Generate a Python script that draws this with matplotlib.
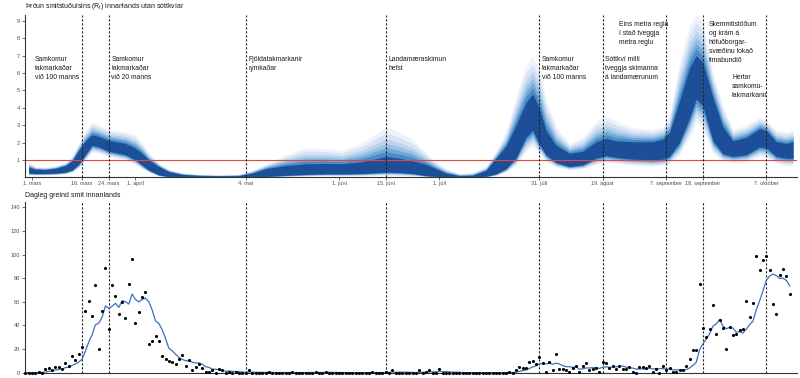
import matplotlib
matplotlib.use('Agg')
import matplotlib.pyplot as plt
import numpy as np
import pandas as pd

plt.rcParams['font.family'] = ['Liberation Sans', 'DejaVu Sans']

start = pd.Timestamp('2020-03-01')

# daily domestic cases, one value per day from 28 Feb
cases_first_day = '2020-02-28'
cases = [0, 0, 0, 0, 1, 0, 3, 4, 2, 5, 5, 3, 8, 6, 14, 11, 16, 22, 52, 61,
         48, 74, 20, 52, 89, 37, 74, 65, 50, 60, 46, 75, 96, 42, 51, 64, 68, 24, 27, 31,
         27, 14, 12, 10, 9, 7, 12, 15, 6, 11, 2, 5, 7, 4, 1, 1, 2, 0, 3, 2,
         0, 1, 0, 1, 0, 0, 0, 2, 0, 0, 0, 0, 0, 1, 0, 0, 0, 0, 0, 0,
         1, 0, 0, 0, 0, 0, 0, 1, 0, 0, 1, 0, 0, 0, 0, 0, 0, 0, 0, 0,
         0, 0, 0, 0, 1, 0, 0, 0, 1, 0, 2, 0, 0, 0, 0, 0, 0, 0, 2, 0,
         1, 2, 0, 0, 3, 0, 0, 0, 0, 0, 0, 0, 0, 0, 0, 0, 0, 0, 0, 0,
         0, 0, 0, 0, 0, 1, 0, 2, 5, 4, 4, 9, 10, 7, 13, 8, 1, 9, 2, 16,
         3, 3, 2, 1, 4, 6, 1, 6, 8, 2, 3, 4, 1, 9, 8, 4, 6, 3, 6, 3,
         3, 5, 1, 0, 5, 5, 4, 6, 1, 3, 0, 6, 2, 4, 1, 1, 2, 2, 6, 12,
         19, 19, 75, 38, 30, 37, 57, 33, 45, 38, 20, 39, 32, 33, 36, 37, 61, 47, 59, 99,
         87, 95, 99, 87, 58, 50, 83, 88, 82, 67]

# R_t estimate: days after 1 March, inner (darkest) band and outer (lightest) band
r_days = [-1, 1, 4, 7, 10, 12, 14, 16, 18, 20, 23, 28, 31, 33, 35, 38, 41, 45, 50, 56,
          62, 66, 70, 76, 82, 88, 93, 99, 106, 110, 114, 118, 121, 124, 128, 132, 136, 139, 142, 145,
          148, 150, 152, 154, 157, 161, 165, 169, 172, 175, 180, 186, 189, 191, 194, 197, 199, 201, 204, 207,
          210, 214, 218, 220, 223, 226, 228]
r_lo_in = [0.24, 0.22, 0.22, 0.24, 0.30, 0.42, 0.75, 1.30, 1.85, 1.75, 1.50, 1.30, 1.00, 0.70, 0.42, 0.14, 0.05, 0.03, 0.03, 0.03,
           0.03, 0.04, 0.05, 0.12, 0.17, 0.20, 0.20, 0.22, 0.30, 0.28, 0.22, 0.10, 0.06, 0.03, 0.02, 0.03, 0.06, 0.20, 0.50, 1.10,
           2.30, 2.70, 1.90, 1.30, 0.85, 0.62, 0.72, 1.10, 1.25, 1.15, 1.05, 1.00, 1.05, 1.20, 2.00, 3.40, 4.50, 4.10, 2.10, 1.35,
           1.20, 1.30, 1.75, 1.70, 1.20, 1.10, 1.10]
r_hi_in = [0.58, 0.47, 0.45, 0.52, 0.68, 0.95, 1.55, 2.10, 2.45, 2.35, 2.12, 1.95, 1.67, 1.38, 1.00, 0.62, 0.33, 0.17, 0.11, 0.09,
           0.10, 0.25, 0.50, 0.68, 0.78, 0.80, 0.78, 0.90, 1.20, 1.10, 0.95, 0.75, 0.50, 0.25, 0.10, 0.12, 0.40, 1.10, 1.80, 3.00,
           4.30, 4.80, 4.00, 2.70, 1.85, 1.38, 1.50, 2.05, 2.25, 2.10, 2.05, 2.05, 2.20, 2.60, 4.40, 6.30, 7.00, 6.60, 4.60, 2.90,
           2.10, 2.30, 2.80, 2.70, 2.05, 1.95, 2.05]
r_lo_out = [0.15, 0.14, 0.14, 0.15, 0.20, 0.30, 0.55, 1.00, 1.45, 1.40, 1.20, 1.00, 0.75, 0.50, 0.30, 0.08, 0.03, 0.02, 0.02, 0.02,
            0.02, 0.02, 0.03, 0.05, 0.08, 0.10, 0.10, 0.10, 0.12, 0.10, 0.08, 0.05, 0.03, 0.02, 0.01, 0.02, 0.03, 0.10, 0.30, 0.70,
            1.50, 1.80, 1.40, 0.90, 0.60, 0.45, 0.50, 0.75, 0.85, 0.80, 0.70, 0.65, 0.70, 0.80, 1.30, 2.30, 3.20, 2.80, 1.40, 0.95,
            0.85, 0.90, 1.20, 1.15, 0.80, 0.70, 0.70]
r_hi_out = [0.88, 0.62, 0.58, 0.66, 0.85, 1.20, 1.95, 2.65, 3.20, 3.00, 2.75, 2.62, 2.42, 1.96, 1.40, 0.82, 0.45, 0.26, 0.17, 0.14,
            0.18, 0.42, 0.75, 1.30, 1.70, 1.65, 1.55, 2.00, 2.88, 2.60, 2.20, 1.40, 0.90, 0.50, 0.22, 0.28, 0.62, 1.50, 2.60, 4.60,
            6.40, 6.90, 6.20, 4.50, 2.90, 1.95, 2.30, 3.20, 3.50, 3.25, 2.85, 2.75, 2.90, 3.50, 6.60, 8.70, 9.35, 8.90, 6.00, 4.10,
            2.75, 3.00, 3.45, 3.30, 2.70, 2.60, 2.70]

event_dates = ['2020-03-16', '2020-03-24', '2020-05-04', '2020-06-15', '2020-07-31',
               '2020-08-19', '2020-09-07', '2020-09-18', '2020-10-07']
tick_dates = ['2020-03-01', '2020-03-16', '2020-03-24', '2020-04-01', '2020-05-04', '2020-06-01',
              '2020-06-15', '2020-07-01', '2020-07-31', '2020-08-19', '2020-09-07', '2020-09-18',
              '2020-10-07']
tick_labels = ['1. mars', '16. mars', '24. mars', '1. apríl', '4. maí', '1. júní', '15. júní',
               '1. júlí', '31. júlí', '19. ágúst', '7. september', '18. september', '7. október']

notes = [
    ('2020-03-01', 6.98, 'Samkomur\ntakmarkaðar\nvið 100 manns'),
    ('2020-03-24', 6.98, 'Samkomur\ntakmarkaðar\nvið 20 manns'),
    ('2020-05-04', 6.98, 'Fjöldatakmarkanir\nrýmkaðar'),
    ('2020-06-15', 6.98, 'Landamæraskimun\nhefst'),
    ('2020-07-31', 6.98, 'Samkomur\ntakmarkaðar\nvið 100 manns'),
    ('2020-08-19', 6.98, 'Sóttkví milli\ntveggja skimanna\ná landamærunum'),
    ('2020-08-23', 8.98, 'Eins metra regla\ní stað tveggja\nmetra reglu'),
    ('2020-09-19', 8.98, 'Skemmtistöðum\nog krám á\nhöfuðborgar-\nsvæðinu lokað\ntímabundið'),
    ('2020-09-26', 5.94, 'Hertar\nsamkomu-\ntakmarkanir'),
]


def day(d):
    return (pd.to_datetime(d) - start).days


fig = plt.figure(figsize=(8, 3.78), dpi=100)
W, H = 800, 378
ax1 = fig.add_axes([25 / W, (H - 176.5) / H, 772 / W, (176.5 - 15) / H])
ax2 = fig.add_axes([25 / W, (H - 372.7) / H, 772 / W, (372.7 - 202) / H])

xlim = (-2.1, 229.2)
tick_col = '#4d4d4d'
label_size = 4.0

# ---- top panel: R_t fan
rd = np.array(r_days)
lo_in, hi_in = np.array(r_lo_in), np.array(r_hi_in)
lo_out, hi_out = np.array(r_lo_out), np.array(r_hi_out)
shades = [(1.0, '#edf2fb'), (0.8, '#d5e3f4'), (0.6, '#bad2ec'), (0.44, '#98c0e3'),
          (0.3, '#70a8d6'), (0.16, '#4a8cc8')]
for t, c in shades:
    ax1.fill_between(rd, lo_in + t * (lo_out - lo_in), hi_in + t * (hi_out - hi_in),
                     color=c, lw=0)
ax1.fill_between(rd, lo_in, hi_in, color='#1c4f98', lw=0)
ax1.axhline(1, color='#e0483f', lw=0.8)

for ax in (ax1, ax2):
    for d in event_dates:
        ax.axvline(day(d), color='#222222', lw=0.8, ls=(0, (2, 1.6)))
    ax.set_xlim(*xlim)
    for s in ('top', 'right'):
        ax.spines[s].set_visible(False)
    for s in ('left', 'bottom'):
        ax.spines[s].set_color('#333333')
        ax.spines[s].set_linewidth(0.8)
    ax.tick_params(labelsize=label_size, labelcolor=tick_col, color='#333333',
                   length=2, width=0.5, pad=1.5)

for d, y, txt in notes:
    ax1.text(day(d) + 0.8, y, txt, fontsize=4.9, va='top', ha='left', linespacing=1.4,
             color='#1a1a1a')

ax1.set_ylim(0.05, 9.33)
ax1.set_yticks(range(1, 10))
ax1.set_xticks([day(d) for d in tick_dates])
ax1.set_xticklabels(tick_labels)

# ---- bottom panel: daily cases with 7-day mean
cx = np.arange(len(cases)) + day(cases_first_day)
roll = pd.Series(cases).rolling(7, min_periods=1).mean()
ax2.plot(cx, roll, color='#3d6fc0', lw=0.9, zorder=2)
ax2.scatter(cx, cases, s=5, color='black', lw=0, zorder=3, clip_on=False)
ax2.set_ylim(0, 144.5)
ax2.set_yticks(range(0, 141, 20))
ax2.set_xticks([])

fig.text(25 / W, 1 - 6 / H, 'Þróun smitstuðulsins ($\\mathregular{R_t}$) innanlands utan sóttkvíar',
         fontsize=5.0, va='center', ha='left', color='#1a1a1a')
fig.text(25 / W, 1 - 195 / H, 'Dagleg greind smit innanlands',
         fontsize=5.0, va='center', ha='left', color='#1a1a1a')

fig.savefig('out.png', dpi=100)
